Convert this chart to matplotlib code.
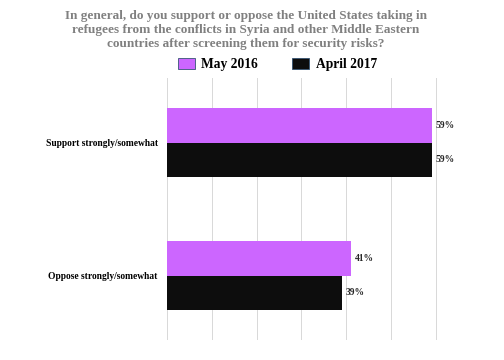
import matplotlib
matplotlib.use("Agg")
import matplotlib.pyplot as plt
from matplotlib.patches import Patch

categories = ["Support strongly/somewhat", "Oppose strongly/somewhat"]
may_2016 = [59, 41]
april_2017 = [59, 39]
series_names = ["May 2016", "April 2017"]
colors = ["#CC66FF", "#0D0D0D"]

title = ("In general, do you support or oppose the United States taking in\n"
         "refugees from the conflicts in Syria and other Middle Eastern\n"
         "countries after screening them for security risks?")

plt.rcParams["font.family"] = ["Liberation Serif", "DejaVu Sans"]

fig = plt.figure(figsize=(7, 5), dpi=72)
ax = fig.add_axes([0.331, 0.0556, 0.624, 0.7274])

h = 0.26
ypos = list(range(len(categories)))
ax.barh([y - h / 2 for y in ypos], may_2016, height=h, color=colors[0], zorder=2)
ax.barh([y + h / 2 for y in ypos], april_2017, height=h, color=colors[1], zorder=2)

for y, v in zip(ypos, may_2016):
    ax.text(v + 0.9, y - h / 2, f"{v}%", va="center", ha="left",
            fontsize=9.5, fontweight="bold", color="#262626")
for y, v in zip(ypos, april_2017):
    ax.text(v + 0.9, y + h / 2, f"{v}%", va="center", ha="left",
            fontsize=9.5, fontweight="bold", color="#262626")

ax.set_xlim(0, 70.1)
ax.set_ylim(1.485, -0.485)
ax.set_xticks(range(0, 71, 10))
ax.set_xticklabels([])
ax.set_yticks(ypos)
ax.set_yticklabels(categories, fontsize=9.5, fontweight="bold")
ax.tick_params(length=0, pad=9)
ax.grid(axis="x", color="#D9D9D9", linewidth=1, zorder=0)
for s in ax.spines.values():
    s.set_visible(False)

fig.text(0.488, 0.973, title, ha="center", va="top", fontsize=13.3,
         fontweight="bold", color="#808080", linespacing=1.22)

handles = [Patch(facecolor=c, edgecolor="#2F4F6F", linewidth=0.8) for c in colors]
fig.legend(handles, series_names, loc="center", bbox_to_anchor=(0.55, 0.82),
           ncol=2, frameon=False, prop={"weight": "bold", "size": 13.5},
           handlelength=1.26, handleheight=0.9, columnspacing=2.5, handletextpad=0.5)

fig.savefig("out.png", dpi=72)
